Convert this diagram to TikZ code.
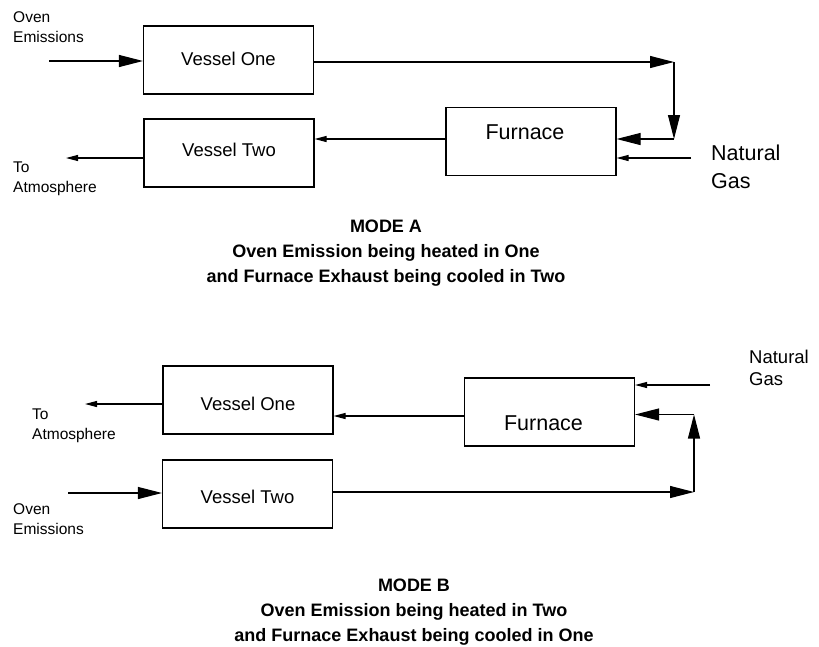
\documentclass[tikz,border=0pt]{standalone}
\usepackage{fontspec}
\setmainfont{Liberation Sans}
\usetikzlibrary{arrows.meta}
\newcommand{\lift}[2]{\raisebox{#1}[\height][\depth]{#2}}
\tikzset{
  vessel/.style={draw, line width=1.1pt, minimum width=170pt, minimum height=68pt, inner sep=0pt, font=\fontsize{18.5}{22}\selectfont},
  furnace/.style={vessel, font=\fontsize{21.5}{26}\selectfont},
  tag/.style={anchor=west, align=left, inner sep=0pt, font=\fontsize{15.5}{20}\selectfont},
  gas/.style={anchor=west, align=left, inner sep=0pt, font=\fontsize{21.5}{28}\selectfont},
  mode/.style={align=center, inner sep=0pt, font=\bfseries\fontsize{18}{25}\selectfont},
  flow/.style={line width=1.1pt, -{Triangle[length=24pt,width=12pt]}},
  smallflow/.style={line width=1.1pt, -{Triangle[length=12pt,width=6pt]}}
}
\begin{document}
\begin{tikzpicture}[x=1pt,y=-1pt]
\useasboundingbox (0,0) rectangle (819,646);

\node[vessel] (oneA) at (228.5,60) {\lift{1.5pt}{Vessel One}};
\node[vessel] (twoA) at (229,153) {\lift{3pt}{Vessel Two}};
\node[furnace] (furA) at (531,141.5) {\lift{9pt}{Furnace}\kern12pt};
\node[tag] (ovenA) at (13,27.5) {Oven\\Emissions};
\node[tag] (atmA) at (13,178.5) {To\\Atmosphere};
\node[gas] (natA) at (711,167) {Natural\\Gas};
\node[mode] (capA) at (386,253) {MODE A\\Oven Emission being heated in One\\and Furnace Exhaust being cooled in Two};
\coordinate (inA) at (49,61);
\coordinate (outA) at (66,158);
\coordinate (topA) at (674,62);
\coordinate (dropA) at (674,139);
\coordinate (gasA) at (691,158);
\coordinate (backA) at ([yshift=2.5pt]furA.west);
\draw[flow] (inA) -- (inA -| oneA.west);
\draw[flow] (oneA.east |- topA) -- (topA);
\draw[flow] (topA) -- (dropA);
\draw[flow] (dropA) -- (dropA -| furA.east);
\draw[smallflow] (gasA) -- (gasA -| furA.east);
\draw[smallflow] (backA) -- (backA -| twoA.east);
\draw[smallflow] (twoA.west |- outA) -- (outA);

\node[vessel] (oneB) at (248,400) {\lift{-4pt}{Vessel One}};
\node[vessel] (twoB) at (247.5,494) {\lift{-2.5pt}{Vessel Two}};
\node[furnace] (furB) at (549.5,412) {\lift{-11pt}{Furnace}\kern12pt};
\node[tag] (atmB) at (32,426) {To\\Atmosphere};
\node[tag] (ovenB) at (13,519) {Oven\\Emissions};
\node[gas, font=\fontsize{18.5}{22}\selectfont] (natB) at (749,368) {Natural\\Gas};
\node[mode] (capB) at (414,612) {MODE B\\Oven Emission being heated in Two\\and Furnace Exhaust being cooled in One};
\coordinate (inB) at (68,493);
\coordinate (outB) at (85,404);
\coordinate (botB) at (694,492);
\coordinate (riseB) at (694,414.5);
\coordinate (gasB) at (710,385);
\coordinate (backB) at ([yshift=-4pt]furB.west);
\draw[flow] (inB) -- (inB -| twoB.west);
\draw[flow] (twoB.east |- botB) -- (botB);
\draw[flow] (botB) -- (riseB);
\draw[flow] (riseB) -- (riseB -| furB.east);
\draw[smallflow] (gasB) -- (gasB -| furB.east);
\draw[smallflow] (backB) -- (backB -| oneB.east);
\draw[smallflow] (oneB.west |- outB) -- (outB);
\end{tikzpicture}
\end{document}
